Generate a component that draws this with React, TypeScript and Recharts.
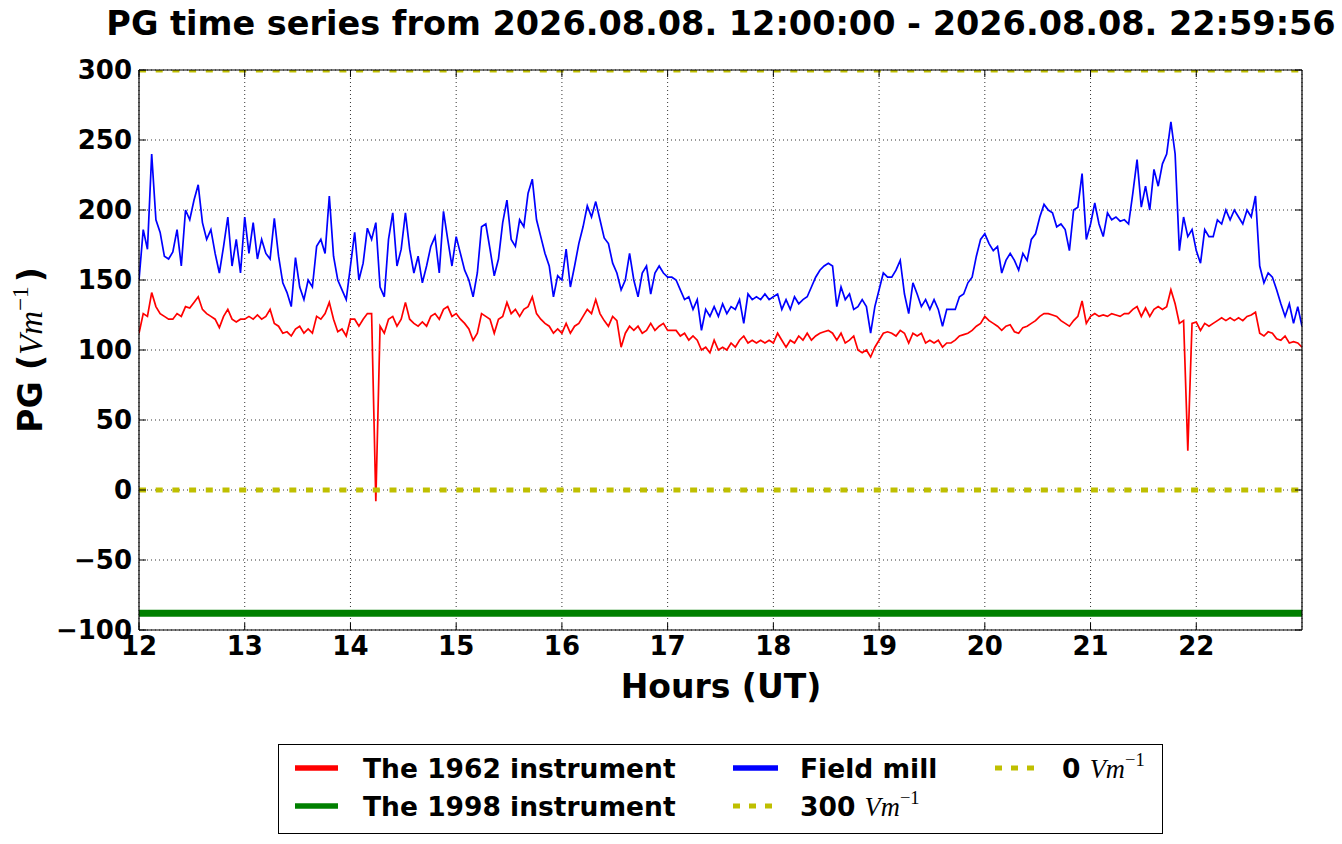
import { CartesianGrid, Line, LineChart, XAxis, YAxis } from "recharts";

// samples every 0.04 h from 12:00 to 23:00
const START_HOUR = 12;
const STEP_HOURS = 0.04;

const hourTicks = [12, 13, 14, 15, 16, 17, 18, 19, 20, 21, 22];
const pgTicks = [-100, -50, 0, 50, 100, 150, 200, 250, 300];

const fieldMill = [
  150,
  186, 172, 240, 193, 184, 167, 165, 170, 186, 160, 200, 193, 207, 218, 191, 179, 186, 169, 155, 174, 195, 160, 179, 155, 195,
  169, 191, 165, 179, 169, 165, 194, 167, 148, 141, 131, 166, 145, 136, 150, 145, 174, 179, 169, 210, 167, 150, 143, 136, 160,
  184, 150, 162, 187, 179, 191, 145, 138, 179, 198, 160, 172, 198, 172, 155, 167, 148, 160, 174, 181, 155, 199, 179, 160, 181,
  169, 157, 150, 138, 155, 188, 190, 172, 153, 165, 191, 207, 179, 174, 193, 188, 212, 222, 193, 181, 169, 160, 138, 153, 150,
  172, 145, 160, 176, 188, 203, 195, 206, 193, 180, 176, 162, 155, 143, 150, 169, 150, 138, 155, 160, 140, 155, 160, 155, 152,
  152, 150, 143, 136, 138, 129, 136, 114, 129, 124, 131, 124, 133, 126, 131, 129, 136, 119, 140, 136, 138, 136, 140, 136, 138,
  140, 129, 136, 129, 138, 133, 136, 138, 145, 152, 157, 160, 162, 160, 131, 145, 136, 140, 129, 131, 136, 131, 112, 131, 143,
  155, 152, 152, 157, 164, 140, 126, 148, 140, 131, 136, 129, 136, 129, 117, 129, 129, 129, 138, 140, 148, 152, 167, 179, 183,
  176, 171, 174, 155, 164, 169, 164, 157, 169, 164, 179, 183, 195, 204, 200, 198, 188, 190, 186, 171, 200, 202, 226, 179, 190,
  205, 190, 181, 198, 193, 195, 192, 193, 190, 212, 236, 202, 217, 200, 229, 217, 233, 240, 263, 240, 171, 195, 181, 186, 171,
  162, 186, 181, 181, 193, 190, 200, 193, 200, 195, 190, 200, 195, 210, 160, 148, 155, 152, 143, 133, 124, 133, 119, 131, 117
];

const instrument1962 = [
  112,
  126, 124, 141, 131, 126, 124, 122, 122, 126, 124, 131, 130, 134, 138, 129, 126, 124, 122, 116, 124, 129, 122, 120, 122, 122,
  124, 122, 125, 122, 124, 129, 119, 117, 112, 113, 110, 115, 117, 112, 115, 112, 124, 122, 126, 134, 122, 113, 115, 110, 122,
  122, 117, 122, 126, 126, -8, 117, 112, 122, 124, 117, 122, 134, 122, 119, 117, 120, 117, 124, 126, 122, 129, 131, 124, 126,
  122, 119, 115, 107, 112, 126, 124, 122, 112, 122, 124, 134, 126, 129, 124, 129, 131, 138, 126, 122, 119, 117, 112, 115, 112,
  119, 112, 117, 119, 124, 129, 126, 136, 126, 121, 117, 124, 121, 102, 112, 117, 114, 117, 112, 114, 119, 114, 117, 119, 114,
  114, 114, 110, 112, 107, 110, 107, 100, 102, 98, 107, 100, 102, 100, 105, 102, 107, 110, 105, 107, 105, 107, 105, 107, 105,
  112, 107, 102, 107, 105, 110, 107, 112, 107, 110, 112, 113, 114, 112, 107, 112, 105, 107, 110, 100, 98, 100, 95, 102, 107,
  112, 113, 112, 110, 114, 112, 105, 112, 110, 112, 105, 107, 105, 107, 102, 105, 105, 107, 110, 111, 112, 114, 117, 119, 124,
  121, 119, 117, 114, 117, 118, 113, 112, 116, 117, 119, 121, 124, 126, 126, 125, 124, 121, 119, 117, 121, 124, 135, 119, 124,
  126, 124, 125, 124, 126, 125, 124, 126, 126, 129, 131, 124, 130, 124, 129, 131, 129, 131, 143, 133, 119, 121, 28, 119, 120,
  114, 119, 117, 119, 121, 123, 121, 123, 121, 123, 121, 124, 125, 127, 112, 110, 113, 112, 108, 107, 110, 105, 106, 105, 102
];

const instrument1998Level = -88;
const upperLevel = 300;
const zeroLevel = 0;

const rows = fieldMill.map((b, i) => ({
  h: START_HOUR + i * STEP_HOURS,
  red: instrument1962[i],
  green: instrument1998Level,
  blue: b,
  top: upperLevel,
  zero: zeroLevel
}));

const FONT = "'DejaVu Sans', sans-serif";
const MATH = "'Liberation Serif', 'DejaVu Serif', serif";
const YELLOW = "#bfbf00";

const tickStyle = { fill: "#000", fontSize: 26, fontWeight: 700, fontFamily: FONT };

function formatPG(v: number): string {
  return v < 0 ? `\u2212${-v}` : `${v}`;
}

function Unit({ size }: { size: number }) {
  return (
    <>
      <tspan fontFamily={MATH} fontStyle="italic" fontWeight={400}>Vm</tspan>
      <tspan fontFamily={MATH} fontWeight={400} fontSize={size * 0.7} dy={-size * 0.42}>
        {"\u22121"}
      </tspan>
    </>
  );
}

function Overlay() {
  const legendRows = [768, 806];
  return (
    <svg
      width={1342}
      height={844}
      style={{ position: "absolute", left: 0, top: 0, pointerEvents: "none" }}
    >
      <text x={721} y={35} textAnchor="middle" fontFamily={FONT} fontWeight={700} fontSize={33.5}>
        PG time series from 2026.08.08. 12:00:00 - 2026.08.08. 22:59:56
      </text>
      <text x={721} y={698} textAnchor="middle" fontFamily={FONT} fontWeight={700} fontSize={33}>
        Hours (UT)
      </text>
      <text
        x={42}
        y={350}
        textAnchor="middle"
        transform="rotate(-90 42 350)"
        fontFamily={FONT}
        fontWeight={700}
        fontSize={33}
      >
        <tspan>PG (</tspan>
        <Unit size={33} />
        <tspan dy={33 * 0.42} dx={4}>)</tspan>
      </text>

      <rect x={278.5} y={744.5} width={884} height={89} fill="#fff" stroke="#000" strokeWidth={1} />
      <line x1={295} x2={338} y1={legendRows[0]} y2={legendRows[0]} stroke="#ff0000" strokeWidth={5.5} />
      <line x1={295} x2={338} y1={legendRows[1]} y2={legendRows[1]} stroke="#008000" strokeWidth={5.5} />
      <line x1={733} x2={778} y1={legendRows[0]} y2={legendRows[0]} stroke="#0000ff" strokeWidth={5.5} />
      <line
        x1={733}
        x2={773}
        y1={legendRows[1]}
        y2={legendRows[1]}
        stroke={YELLOW}
        strokeWidth={5}
        strokeDasharray="7 9"
      />
      <line
        x1={995}
        x2={1035}
        y1={legendRows[0]}
        y2={legendRows[0]}
        stroke={YELLOW}
        strokeWidth={5}
        strokeDasharray="7 9"
      />
      <g fontFamily={FONT} fontWeight={700} fontSize={26.5}>
        <text x={363} y={legendRows[0] + 9.5}>The 1962 instrument</text>
        <text x={363} y={legendRows[1] + 9.5}>The 1998 instrument</text>
        <text x={800} y={legendRows[0] + 9.5}>Field mill</text>
        <text x={800} y={legendRows[1] + 9.5}>
          <tspan>300 </tspan>
          <Unit size={26.5} />
        </text>
        <text x={1062} y={legendRows[0] + 9.5}>
          <tspan>0 </tspan>
          <Unit size={26.5} />
        </text>
      </g>
    </svg>
  );
}

export default function App() {
  return (
    <div style={{ position: "absolute", left: 0, top: 0, width: 1342, height: 844, background: "#fff" }}>
      <LineChart
        width={1342}
        height={844}
        data={rows}
        margin={{ top: 69, right: 39, bottom: 184, left: 59 }}
      >
        <CartesianGrid stroke="#000" strokeDasharray="1 3" strokeOpacity={0.8} />
        <XAxis
          dataKey="h"
          type="number"
          domain={[12, 23]}
          ticks={hourTicks}
          interval={0}
          height={30}
          tickSize={-7}
          tickMargin={14}
          axisLine={{ stroke: "#000", strokeWidth: 1.2 }}
          tickLine={{ stroke: "#000" }}
          tick={tickStyle}
          allowDataOverflow
        />
        <XAxis
          xAxisId="top"
          orientation="top"
          dataKey="h"
          type="number"
          domain={[12, 23]}
          ticks={hourTicks}
          interval={0}
          height={1}
          tickSize={-7}
          tickFormatter={() => ""}
          axisLine={{ stroke: "#000", strokeWidth: 1.2 }}
          tickLine={{ stroke: "#000" }}
          allowDataOverflow
        />
        <YAxis
          type="number"
          domain={[-100, 300]}
          ticks={pgTicks}
          interval={0}
          width={80}
          tickSize={-7}
          tickMargin={14}
          tickFormatter={formatPG}
          axisLine={{ stroke: "#000", strokeWidth: 1.2 }}
          tickLine={{ stroke: "#000" }}
          tick={tickStyle}
          allowDataOverflow
        />
        <YAxis
          yAxisId="right"
          orientation="right"
          type="number"
          domain={[-100, 300]}
          ticks={pgTicks}
          interval={0}
          width={1}
          tickSize={-7}
          tickFormatter={() => ""}
          axisLine={{ stroke: "#000", strokeWidth: 1.2 }}
          tickLine={{ stroke: "#000" }}
          allowDataOverflow
        />
        <Line dataKey="red" stroke="#ff0000" strokeWidth={1.7} dot={false} isAnimationActive={false} />
        <Line dataKey="green" stroke="#008000" strokeWidth={7} dot={false} isAnimationActive={false} />
        <Line dataKey="blue" stroke="#0000ff" strokeWidth={1.7} dot={false} isAnimationActive={false} />
        <Line
          dataKey="top"
          stroke={YELLOW}
          strokeWidth={5}
          strokeDasharray="7 9.7"
          dot={false}
          isAnimationActive={false}
        />
        <Line
          dataKey="zero"
          stroke={YELLOW}
          strokeWidth={5}
          strokeDasharray="7 9.7"
          dot={false}
          isAnimationActive={false}
        />
      </LineChart>
      <Overlay />
    </div>
  );
}
